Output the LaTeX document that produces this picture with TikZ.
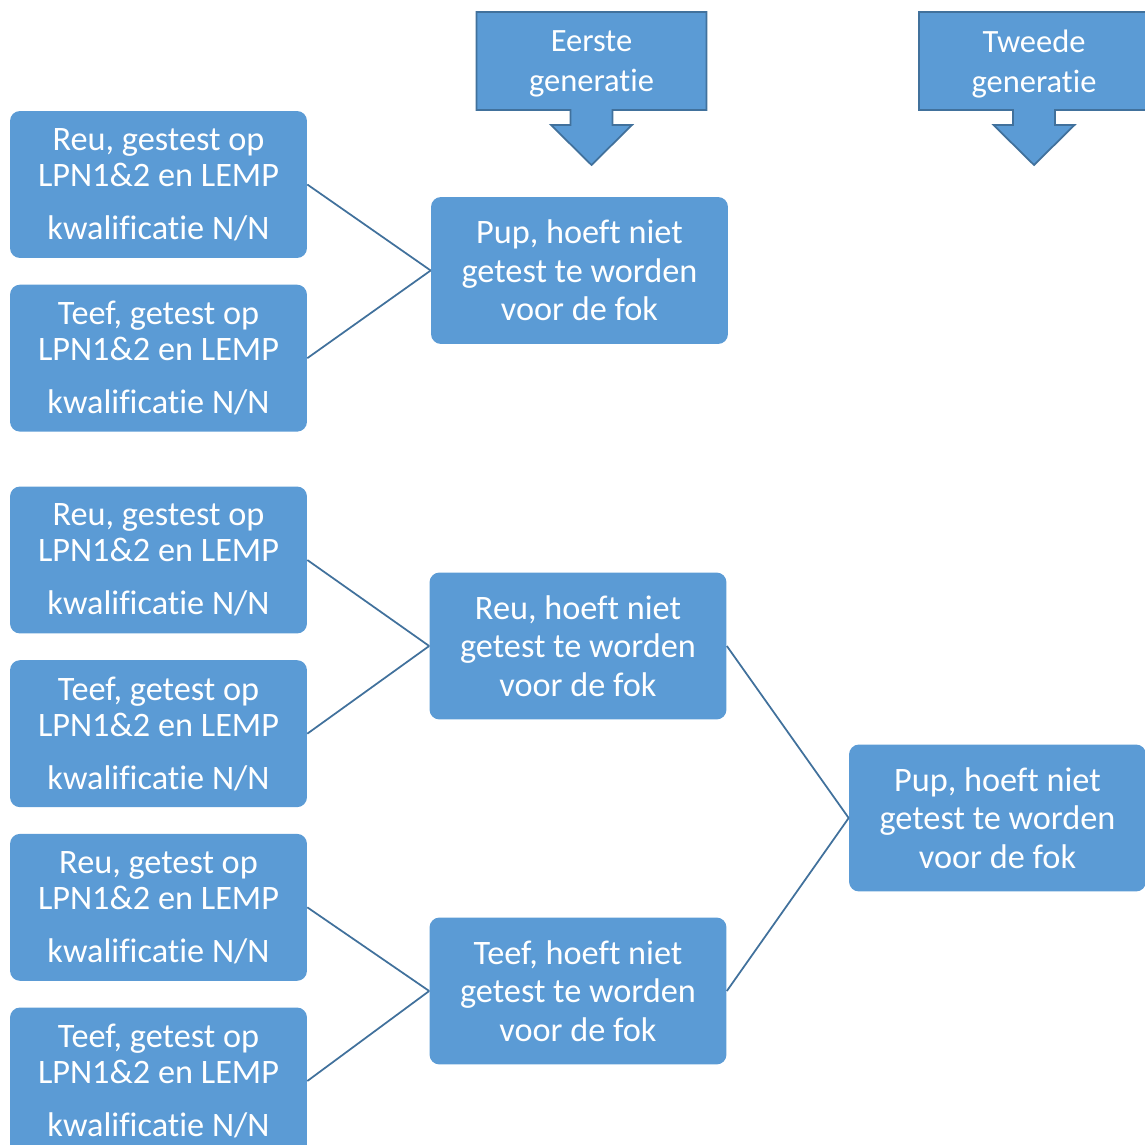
\documentclass[tikz,border=0pt]{standalone}
\usepackage{fontspec}
\setmainfont{Carlito}[Ligatures=NoCommon]
\usetikzlibrary{positioning,calc,backgrounds}
\definecolor{boxblue}{HTML}{5B9BD5}
\definecolor{lineblue}{HTML}{41719C}

\begin{document}
\begin{tikzpicture}[
    x=0.02cm, y=-0.02cm,
    node distance=0.52cm,
    parent/.style={rectangle, rounded corners=0.2cm, fill=boxblue, text=white, inner sep=0pt, minimum width=5.94cm, minimum height=2.94cm, align=center, font=\fontsize{19.5}{20.5}\selectfont},
    child/.style={parent, font=\fontsize{19.5}{22}\selectfont},
    header/.style={rectangle, text=white, inner sep=0pt, align=center, font=\fontsize{18.5}{22.7}\selectfont},
    headarrow/.style={fill=boxblue, draw=lineblue, line width=1pt},
    link/.style={draw=lineblue, line width=1pt}
]
\useasboundingbox (0,0) rectangle (1144,1145);

% Headers: generations
\node[header] (eerste) at (591.5,64) {Eerste\\generatie};
\node[header] (tweede) at (1034,64) {Tweede\\generatie};

\begin{scope}[on background layer]
\foreach \hd in {eerste,tweede}
    \filldraw[headarrow] ($(\hd.center)+(-115,46)$) -- ++(0,-98) -- ++(230,0) -- ++(0,98)
        -- ++(-94,0) -- ++(0,15) -- ++(19.5,0) -- ($(\hd.center)+(0,101)$)
        -- ($(\hd.center)+(-40.5,61)$) -- ++(19.5,0) -- ++(0,-15) -- cycle;
\end{scope}

% Top family: parents and pup
\node[parent] (reu_a) at (158.5,184.5) {Reu, gestest op\\LPN1\&2 en LEMP\\[9.6pt]kwalificatie N/N};
\node[parent, below=of reu_a] (teef_a) {Teef, getest op\\LPN1\&2 en LEMP\\[9.6pt]kwalificatie N/N};
\node[child] (pup_a) at (579.5,270.5) {Pup, hoeft niet\\getest te worden\\voor de fok};

\draw[link] (reu_a.east) -- (pup_a.west);
\draw[link] (teef_a.east) -- (pup_a.west);

% Bottom family: grandparents
\node[parent] (reu_b) at (158.5,560) {Reu, gestest op\\LPN1\&2 en LEMP\\[9.6pt]kwalificatie N/N};
\node[parent, below=of reu_b] (teef_b) {Teef, getest op\\LPN1\&2 en LEMP\\[9.6pt]kwalificatie N/N};
\node[parent, below=of teef_b] (reu_c) {Reu, getest op\\LPN1\&2 en LEMP\\[9.6pt]kwalificatie N/N};
\node[parent, below=of reu_c] (teef_c) {Teef, getest op\\LPN1\&2 en LEMP\\[9.6pt]kwalificatie N/N};

% First generation
\node[child] (reu_mid) at (578,646) {Reu, hoeft niet\\getest te worden\\voor de fok};
\node[child] (teef_mid) at (578,991) {Teef, hoeft niet\\getest te worden\\voor de fok};

\draw[link] (reu_b.east) -- (reu_mid.west);
\draw[link] (teef_b.east) -- (reu_mid.west);
\draw[link] (reu_c.east) -- (teef_mid.west);
\draw[link] (teef_c.east) -- (teef_mid.west);

% Second generation
\node[child] (pup_b) at (997.5,818) {Pup, hoeft niet\\getest te worden\\voor de fok};

\draw[link] (reu_mid.east) -- (pup_b.west);
\draw[link] (teef_mid.east) -- (pup_b.west);

\end{tikzpicture}
\end{document}
